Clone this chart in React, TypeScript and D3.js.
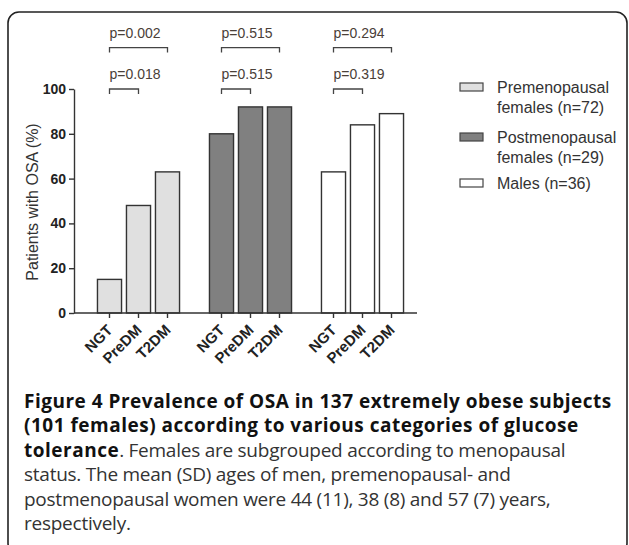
import * as d3 from 'd3';
import { useEffect, useRef } from 'react';

const groups = ['Premenopausal', 'Postmenopausal', 'Males'];
const categories = ['NGT', 'PreDM', 'T2DM'];
const premenopausal = [15, 48, 63];
const postmenopausal = [80, 92, 92];
const males = [63, 84, 89];
const yTicks = [0, 20, 40, 60, 80, 100];
const pOverall = ['p=0.002', 'p=0.515', 'p=0.294'];
const pNgtPre = ['p=0.018', 'p=0.515', 'p=0.319'];
const legendLabels = [
  ['Premenopausal', 'females (n=72)'],
  ['Postmenopausal', 'females (n=29)'],
  ['Males (n=36)'],
];
const captionLines = [
  [{ t: 'Figure 4 Prevalence of OSA in 137 extremely obese subjects', b: true }],
  [{ t: '(101 females) according to various categories of glucose', b: true }],
  [
    { t: 'tolerance', b: true },
    { t: '. Females are subgrouped according to menopausal', b: false },
  ],
  [{ t: 'status. The mean (SD) ages of men, premenopausal- and', b: false }],
  [{ t: 'postmenopausal women were 44 (11), 38 (8) and 57 (7) years,', b: false }],
  [{ t: 'respectively.', b: false }],
];

const W = 629;
const H = 545;

const App = () => {
  const ref = useRef(null);

  useEffect(() => {
    const values = [premenopausal, postmenopausal, males];
    const fills = ['#e0e0e0', '#808080', '#ffffff'];
    const axisFont = '"Liberation Sans", Arial, sans-serif';

    const svg = d3.select(ref.current);
    svg.selectAll('*').remove();

    // figure frame
    svg
      .append('rect')
      .attr('x', 8)
      .attr('y', 12)
      .attr('width', 619)
      .attr('height', 542)
      .attr('rx', 11)
      .attr('fill', 'none')
      .attr('stroke', '#222')
      .attr('stroke-width', 1.6);

    const axisX = 74;
    const y = d3.scaleLinear().domain([0, 100]).range([313, 89]);
    const x0 = d3.scaleBand().domain(groups).range([95, 431]).padding(0);
    const x1 = d3
      .scaleBand()
      .domain(categories)
      .range([0, 87])
      .paddingInner(0.17)
      .paddingOuter(0.085);
    const cx = (g, c) => x0(g) + x1(c) + x1.bandwidth() / 2;

    // bars
    groups.forEach((g, gi) => {
      svg
        .append('g')
        .selectAll('rect')
        .data(values[gi])
        .join('rect')
        .attr('x', (d, i) => x0(g) + x1(categories[i]))
        .attr('y', (d) => y(d))
        .attr('width', x1.bandwidth())
        .attr('height', (d) => y(0) - y(d))
        .attr('fill', fills[gi])
        .attr('stroke', '#333')
        .attr('stroke-width', 1.4);
    });

    // y axis
    const yAxis = svg
      .append('g')
      .attr('transform', `translate(${axisX},0)`)
      .call(d3.axisLeft(y).tickValues(yTicks).tickSize(5).tickSizeOuter(0).tickPadding(3));
    yAxis.select('.domain').attr('stroke', '#333').attr('stroke-width', 1.4);
    yAxis.selectAll('.tick line').attr('stroke', '#333').attr('stroke-width', 1.4);
    yAxis
      .selectAll('.tick text')
      .attr('font-family', axisFont)
      .attr('font-size', 14)
      .attr('font-weight', 'bold')
      .attr('fill', '#222');

    // x axis
    svg
      .append('line')
      .attr('x1', axisX)
      .attr('x2', 417)
      .attr('y1', y(0))
      .attr('y2', y(0))
      .attr('stroke', '#333')
      .attr('stroke-width', 1.4);

    groups.forEach((g) => {
      categories.forEach((c) => {
        svg
          .append('line')
          .attr('x1', cx(g, c))
          .attr('x2', cx(g, c))
          .attr('y1', y(0))
          .attr('y2', y(0) + 5)
          .attr('stroke', '#333')
          .attr('stroke-width', 1.4);
        svg
          .append('text')
          .attr('transform', `translate(${cx(g, c) + 4},${y(0) + 18}) rotate(-45)`)
          .attr('text-anchor', 'end')
          .attr('font-family', axisFont)
          .attr('font-size', 15)
          .attr('font-weight', 'bold')
          .attr('fill', '#222')
          .text(c);
      });
    });

    // y axis title
    svg
      .append('text')
      .attr('transform', `translate(38,202) rotate(-90)`)
      .attr('text-anchor', 'middle')
      .attr('font-family', axisFont)
      .attr('font-size', 16)
      .attr('fill', '#333')
      .text('Patients with OSA (%)');

    // significance brackets
    const bracket = (g, last, level, label) => {
      const xa = cx(g, categories[0]);
      const xb = cx(g, last);
      const yy = y(level);
      svg
        .append('path')
        .attr('d', `M${xa},${yy + 5}V${yy}H${xb}V${yy + 5}`)
        .attr('fill', 'none')
        .attr('stroke', '#444')
        .attr('stroke-width', 1.3);
      svg
        .append('text')
        .attr('x', xa)
        .attr('y', yy - 10)
        .attr('font-family', axisFont)
        .attr('font-size', 14)
        .attr('fill', '#4a4038')
        .text(label);
    };
    groups.forEach((g, gi) => {
      bracket(g, categories[2], 118.5, pOverall[gi]);
      bracket(g, categories[1], 100, pNgtPre[gi]);
    });

    // legend
    const legendY = [87, 137, 183];
    legendLabels.forEach((lines, i) => {
      svg
        .append('rect')
        .attr('x', 460)
        .attr('y', legendY[i] - 4)
        .attr('width', 23)
        .attr('height', 8)
        .attr('fill', fills[i])
        .attr('stroke', '#444')
        .attr('stroke-width', 1.2);
      lines.forEach((l, li) => {
        svg
          .append('text')
          .attr('x', 497)
          .attr('y', legendY[i] + 6 + li * 20)
          .attr('font-family', axisFont)
          .attr('font-size', 16)
          .attr('fill', '#333')
          .text(l);
      });
    });

    // caption
    captionLines.forEach((parts, i) => {
      const t = svg
        .append('text')
        .attr('x', 24)
        .attr('y', 408 + i * 24.4)
        .attr('font-family', '"Open Sans", sans-serif')
        .attr('font-size', 19)
        .attr('fill', '#222');
      parts.forEach((p) => {
        t.append('tspan')
          .attr('font-weight', p.b ? 'bold' : 'normal')
          .attr('letter-spacing', p.b ? 0.5 : -0.25)
          .attr('fill', p.b ? '#111' : '#333')
          .text(p.t);
      });
    });
  }, []);

  return (
    <svg
      ref={ref}
      width={W}
      height={H}
      style={{ position: 'absolute', left: 0, top: 0, background: '#fff' }}
    />
  );
};

export default App;
